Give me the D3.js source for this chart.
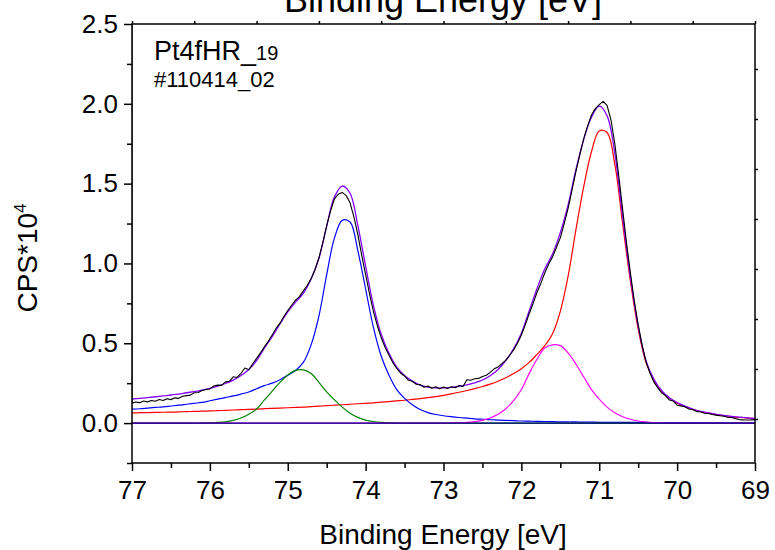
<!DOCTYPE html>
<html>
<head>
<meta charset="utf-8">
<script src="https://cdn.jsdelivr.net/npm/d3@7"></script>
<style>
  body { margin: 0; background: #fff; }
  svg { display: block; font-family: "Liberation Sans", Arial, sans-serif; }
</style>
</head>
<body>
<script>

// binding energy grid of the fitted components (eV)
const energy = [
  77.0,76.9,76.8,76.7,76.6,76.5,76.4,76.3,76.2,76.1,
  76.0,75.9,75.8,75.7,75.6,75.5,75.4,75.3,75.2,75.1,
  75.0,74.9,74.8,74.7,74.6,74.5,74.4,74.3,74.2,74.1,
  74.0,73.9,73.8,73.7,73.6,73.5,73.4,73.3,73.2,73.1,
  73.0,72.9,72.8,72.7,72.6,72.5,72.4,72.3,72.2,72.1,
  72.0,71.9,71.8,71.7,71.6,71.5,71.4,71.3,71.2,71.1,
  71.0,70.9,70.8,70.7,70.6,70.5,70.4,70.3,70.2,70.1,
  70.0,69.9,69.8,69.7,69.6,69.5,69.4,69.3,69.2,69.1,
  69.0
];

// fit components, CPS*10^4
const peakRed = [
  0.064,0.065,0.066,0.067,0.068,0.069,0.070,0.072,0.073,0.075,
  0.076,0.078,0.080,0.082,0.084,0.086,0.088,0.090,0.092,0.094,
  0.096,0.098,0.100,0.103,0.106,0.109,0.112,0.115,0.118,0.121,
  0.124,0.127,0.131,0.135,0.139,0.143,0.148,0.153,0.159,0.166,
  0.174,0.183,0.193,0.204,0.216,0.229,0.244,0.262,0.284,0.310,
  0.340,0.380,0.430,0.485,0.560,0.700,0.920,1.210,1.480,1.700,
  1.830,1.820,1.620,1.250,0.890,0.590,0.380,0.270,0.200,0.155,
  0.125,0.103,0.085,0.072,0.062,0.053,0.046,0.040,0.035,0.031,
  0.028
];
const peakBlue = [
  0.087,0.090,0.094,0.098,0.102,0.107,0.112,0.118,0.124,0.130,
  0.140,0.150,0.160,0.170,0.182,0.195,0.215,0.235,0.250,0.272,
  0.300,0.330,0.380,0.490,0.670,0.930,1.160,1.270,1.260,1.080,
  0.840,0.600,0.420,0.300,0.210,0.155,0.115,0.085,0.066,0.054,
  0.046,0.040,0.035,0.031,0.027,0.024,0.021,0.019,0.017,0.015,
  0.013,0.012,0.011,0.010,0.009,0.008,0.007,0.007,0.006,0.006,
  0.005,0.005,0.005,0.004,0.004,0.004,0.004,0.003,0.003,0.003,
  0.003,0.003,0.003,0.002,0.002,0.002,0.002,0.002,0.002,0.002,
  0.002
];
const peakGreen = [
  0,0,0,0,0,0,0,0,0,0.001,
  0.002,0.004,0.008,0.017,0.032,0.055,0.088,0.145,0.200,0.255,
  0.300,0.330,0.333,0.310,0.255,0.195,0.145,0.100,0.062,0.036,
  0.019,0.010,0.005,0.002,0.001,0,0,0,0,0,
  0,0,0,0,0,0,0,0,0,0,
  0,0,0,0,0,0,0,0,0,0,
  0,0,0,0,0,0,0,0,0,0,
  0,0,0,0,0,0,0,0,0,0,
  0
];
const peakMagenta = [
  0,0,0,0,0,0,0,0,0,0,
  0,0,0,0,0,0,0,0,0,0,
  0,0,0,0,0,0,0,0,0,0,
  0,0,0,0,0,0,0,0,0,0,
  0,0.001,0.002,0.004,0.009,0.017,0.032,0.055,0.090,0.140,
  0.210,0.310,0.400,0.470,0.490,0.485,0.440,0.370,0.290,0.210,
  0.150,0.100,0.065,0.040,0.024,0.013,0.007,0.003,0.001,0,
  0,0,0,0,0,0,0,0,0,0,
  0
];
// fit envelope
const envelope = [
  0.151,0.155,0.160,0.165,0.170,0.176,0.182,0.190,0.197,0.206,
  0.218,0.232,0.248,0.269,0.298,0.336,0.391,0.470,0.542,0.621,
  0.696,0.758,0.813,0.903,1.031,1.234,1.417,1.485,1.440,1.237,
  0.983,0.737,0.556,0.437,0.350,0.298,0.263,0.238,0.225,0.220,
  0.220,0.224,0.230,0.239,0.252,0.270,0.297,0.336,0.391,0.465,
  0.563,0.702,0.841,0.965,1.059,1.193,1.367,1.587,1.776,1.916,
  1.985,1.925,1.690,1.294,0.918,0.607,0.391,0.276,0.204,0.158,
  0.128,0.106,0.088,0.074,0.064,0.055,0.048,0.042,0.037,0.033,
  0.030
];
// zero line
const baseE = [77, 69];
const baseV = [0, 0];

// measured spectrum
const rawEnergy = [
  77.0,77.0,
  76.95,76.9,76.85,76.8,76.75,76.7,76.65,76.6,76.55,76.5,
  76.45,76.4,76.35,76.3,76.25,76.2,76.15,76.1,76.05,76.0,
  75.95,75.9,75.85,75.8,75.75,75.7,75.65,75.6,75.55,75.5,
  75.45,75.4,75.35,75.3,75.25,75.2,75.15,75.1,75.05,75.0,
  74.95,74.9,74.85,74.8,74.75,74.7,74.65,74.6,74.55,74.5,
  74.45,74.4,74.35,74.3,74.25,74.2,74.15,74.1,74.05,74.0,
  73.95,73.9,73.85,73.8,73.75,73.7,73.65,73.6,73.55,73.5,
  73.45,73.4,73.35,73.3,73.25,73.2,73.15,73.1,73.05,73.0,
  72.95,72.9,72.85,72.8,72.75,72.7,72.65,72.6,72.55,72.5,
  72.45,72.4,72.35,72.3,72.25,72.2,72.15,72.1,72.05,72.0,
  71.95,71.9,71.85,71.8,71.75,71.7,71.65,71.6,71.55,71.5,
  71.45,71.4,71.35,71.3,71.25,71.2,71.15,71.1,71.05,71.0,
  70.95,70.9,70.85,70.8,70.75,70.7,70.65,70.6,70.55,70.5,
  70.45,70.4,70.35,70.3,70.25,70.2,70.15,70.1,70.05,70.0,
  69.95,69.9,69.85,69.8,69.75,69.7,69.65,69.6,69.55,69.5,
  69.45,69.4,69.35,69.3,69.25,69.2,69.15,69.1,69.05,69.0
];
const rawCps = [
  2.6,0.125,
  0.132,0.128,0.138,0.133,0.142,0.137,0.148,0.141,0.152,0.147,
  0.158,0.155,0.168,0.172,0.175,0.190,0.192,0.204,0.210,0.214,
  0.232,0.238,0.236,0.258,0.262,0.290,0.286,0.312,0.345,0.334,
  0.372,0.405,0.440,0.478,0.512,0.552,0.593,0.626,0.668,0.705,
  0.738,0.770,0.792,0.828,0.862,0.905,0.962,1.035,1.130,1.235,
  1.330,1.405,1.435,1.445,1.425,1.380,1.290,1.180,1.050,0.930,
  0.810,0.700,0.610,0.535,0.475,0.425,0.378,0.343,0.312,0.295,
  0.268,0.262,0.243,0.241,0.225,0.232,0.218,0.228,0.215,0.226,
  0.216,0.228,0.222,0.235,0.229,0.272,0.268,0.278,0.280,0.292,
  0.300,0.318,0.340,0.352,0.372,0.395,0.425,0.458,0.500,0.552,
  0.615,0.685,0.748,0.818,0.875,0.940,0.995,1.040,1.100,1.160,
  1.250,1.345,1.460,1.575,1.680,1.780,1.860,1.930,1.970,1.995,
  2.015,1.990,1.900,1.750,1.550,1.340,1.130,0.940,0.765,0.615,
  0.490,0.385,0.315,0.258,0.222,0.190,0.172,0.145,0.138,0.112,
  0.108,0.102,0.088,0.085,0.072,0.071,0.062,0.060,0.054,0.050,
  0.046,0.043,0.036,0.035,0.028,0.022,0.020,0.019,0.020,0.022
];

// ticks and labels
const xTicks = [77, 76, 75, 74, 73, 72, 71, 70, 69];
const xMinor = [76.5, 75.5, 74.5, 73.5, 72.5, 71.5, 70.5, 69.5];
const yTicks = [0, 0.5, 1.0, 1.5, 2.0, 2.5];
const yMinor = [-0.25, 0.25, 0.75, 1.25, 1.75, 2.25];
const topTicks = [0, 1, 2, 3, 4, 5, 6, 7, 8, 9, 10];
const rightTicks = [0, 1, 2, 3, 4, 5, 6, 7];
const xTitle = 'Binding Energy [eV]';
const sampleName = ['Pt4fHR_', '19'];
const sampleId = '#110414_02';

const width = 775;
const height = 550;

const xScale = d3.scaleLinear().domain([77, 69]).range([132, 755]);
const yScale = d3.scaleLinear().domain([-0.25, 2.5]).range([463, 24]);
// decorative ticks on top / right frame
const topScale = d3.scaleLinear().domain([0, 10]).range([132, 755]);
const rightScale = d3.scaleLinear().domain([-0.88, 7.9]).range([463, 24]);

const svg = d3.select('body')
  .append('svg')
  .attr('width', width)
  .attr('height', height);

svg.append('clipPath').attr('id', 'plot-clip')
  .append('rect')
  .attr('x', xScale(77)).attr('y', yScale(2.5))
  .attr('width', xScale(69) - xScale(77))
  .attr('height', yScale(-0.25) - yScale(2.5));

const plot = svg.append('g').attr('clip-path', 'url(#plot-clip)');

function drawCurve(xs, ys, color, curve, w) {
  const line = d3.line()
    .x(d => xScale(d[0]))
    .y(d => yScale(d[1]))
    .curve(curve);
  plot.append('path')
    .datum(xs.map((e, i) => [e, ys[i]]))
    .attr('d', line)
    .attr('fill', 'none')
    .attr('stroke', color)
    .attr('stroke-width', w)
    .attr('stroke-linejoin', 'round');
}

// components first, then envelope, then measured data on top
drawCurve(energy, peakRed, '#ff0000', d3.curveCatmullRom, 1.2);
drawCurve(energy, peakBlue, '#0000ff', d3.curveCatmullRom, 1.2);
drawCurve(energy, peakGreen, '#008000', d3.curveCatmullRom, 1.2);
drawCurve(energy, peakMagenta, '#ff00ff', d3.curveCatmullRom, 1.2);
drawCurve(baseE, baseV, '#000080', d3.curveLinear, 1.4);
drawCurve(energy, envelope, '#8000ff', d3.curveCatmullRom, 1.3);
drawCurve(rawEnergy, rawCps, '#000000', d3.curveLinear, 1.1);

// AXES
function styleAxis(g, size) {
  g.select('.domain').remove();
  g.selectAll('line').attr('stroke', '#000').attr('stroke-width', 1.5);
  g.selectAll('text')
    .attr('fill', '#000')
    .style('font-family', '"Liberation Sans", Arial, sans-serif')
    .style('font-size', size);
}

svg.append('g')
  .attr('transform', `translate(0,${yScale(-0.25)})`)
  .call(d3.axisBottom(xScale).tickValues(xTicks).tickSize(8).tickPadding(10).tickFormat(d3.format('d')))
  .call(g => styleAxis(g, '26px'));

svg.append('g')
  .attr('transform', `translate(0,${yScale(-0.25)})`)
  .call(d3.axisBottom(xScale).tickValues(xMinor).tickSize(5).tickFormat(''))
  .call(g => styleAxis(g, '0px'));

svg.append('g')
  .attr('transform', `translate(${xScale(77)},0)`)
  .call(d3.axisLeft(yScale).tickValues(yTicks).tickSize(8).tickPadding(6).tickFormat(d3.format('.1f')))
  .call(g => styleAxis(g, '26px'));

svg.append('g')
  .attr('transform', `translate(${xScale(77)},0)`)
  .call(d3.axisLeft(yScale).tickValues(yMinor).tickSize(5).tickFormat(''))
  .call(g => styleAxis(g, '0px'));

svg.append('g')
  .attr('transform', `translate(0,${yScale(2.5)})`)
  .call(d3.axisTop(topScale).tickValues(topTicks).tickSize(3).tickFormat(''))
  .call(g => styleAxis(g, '0px'));

svg.append('g')
  .attr('transform', `translate(${xScale(69)},0)`)
  .call(d3.axisRight(rightScale).tickValues(rightTicks).tickSize(3).tickFormat(''))
  .call(g => styleAxis(g, '0px'));

// frame
svg.append('rect')
  .attr('x', xScale(77)).attr('y', yScale(2.5))
  .attr('width', xScale(69) - xScale(77))
  .attr('height', yScale(-0.25) - yScale(2.5))
  .attr('fill', 'none')
  .attr('stroke', '#000')
  .attr('stroke-width', 1.5);

// Labelling the graph (top title is cut by the page edge, as in the original)
svg.append('text')
  .attr('x', 443).attr('y', 12)
  .attr('text-anchor', 'middle')
  .style('font-size', '36px')
  .text(xTitle);

svg.append('text')
  .attr('x', 443).attr('y', 544)
  .attr('text-anchor', 'middle')
  .style('font-size', '28px')
  .text(xTitle);

const yTitle = svg.append('text')
  .attr('transform', 'translate(37,258) rotate(-90)')
  .attr('text-anchor', 'middle')
  .style('font-size', '28px');
yTitle.append('tspan').text('CPS*10');
yTitle.append('tspan').attr('dy', -11).style('font-size', '17px').text('4');

const nameText = svg.append('text')
  .attr('x', 154).attr('y', 60)
  .style('font-size', '27px');
nameText.append('tspan').text(sampleName[0]);
nameText.append('tspan').style('font-size', '20px').text(sampleName[1]);

svg.append('text')
  .attr('x', 154).attr('y', 87)
  .style('font-size', '22px')
  .text(sampleId);

</script>
</body>
</html>
